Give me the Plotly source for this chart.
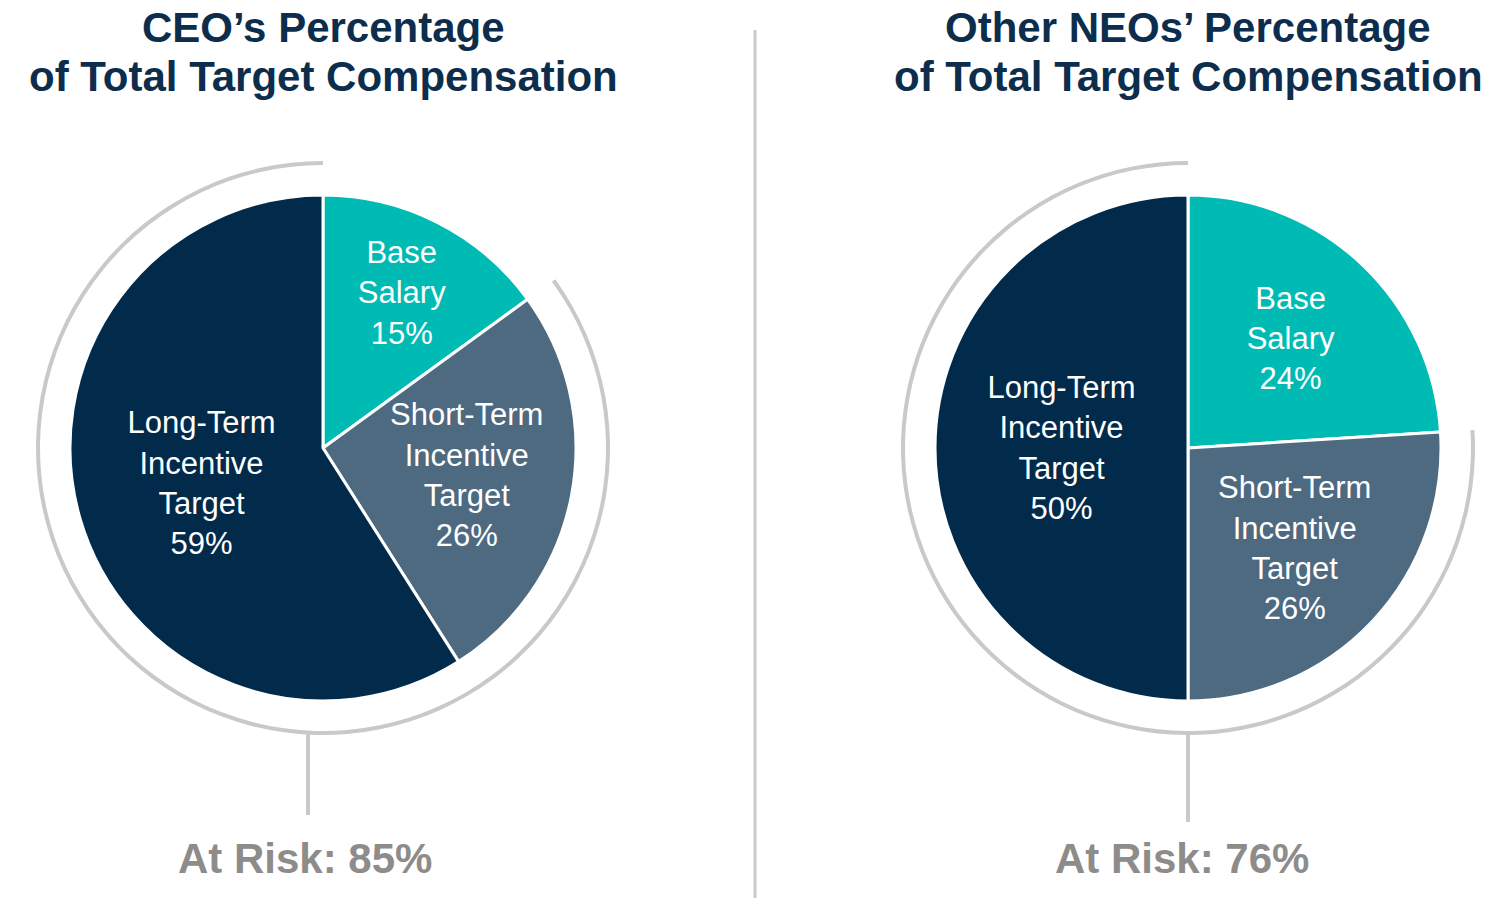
import plotly.graph_objects as go

# Pay mix, % of total target compensation
segments = ["Base<br>Salary", "Short-Term<br>Incentive<br>Target", "Long-Term<br>Incentive<br>Target"]
ceo_mix = [15, 26, 59]
neo_mix = [24, 26, 50]
panel_titles = ["CEO’s Percentage", "Other NEOs’ Percentage"]
panel_subtitle = "of Total Target Compensation"

slice_colors = ["#00bbb4", "#4d6a81", "#022a4a"]
ring_gray = "#c9c9c9"
navy = "#0d2d4d"
risk_gray = "#8e8c8a"

W, H = 1501, 915
OFF = 8  # page body margin


def fx(x):
    return (x - OFF) / W


def fy(y):
    return (H - (y - OFF)) / H


def px_x(x0, x1):
    return [fx(x0), fx(x1)]


def px_y(top, bottom):
    return [fy(bottom), fy(top)]


fig = go.Figure()

panels = [
    dict(mix=ceo_mix, cx=323, cy=448, stem_x=308, stem_bottom=815, risk_x=305),
    dict(mix=neo_mix, cx=1188, cy=448, stem_x=1188, stem_bottom=822, risk_x=1182),
]

R_PIE = 253
R_RING = 287

for i, p in enumerate(panels):
    cx, cy = p["cx"], p["cy"]
    at_risk = sum(p["mix"][1:])

    # outer ring marking the at-risk share
    fig.add_trace(go.Pie(
        values=[p["mix"][0], at_risk],
        sort=False, direction="clockwise", rotation=0,
        hole=(R_RING - 4) / R_RING,
        marker=dict(colors=["rgba(0,0,0,0)", ring_gray], line=dict(width=0)),
        textinfo="none", hoverinfo="skip", showlegend=False,
        domain=dict(x=px_x(cx - R_RING, cx + R_RING), y=px_y(cy - R_RING, cy + R_RING)),
    ))

    fig.add_trace(go.Pie(
        labels=segments, values=p["mix"],
        sort=False, direction="clockwise", rotation=0,
        marker=dict(colors=slice_colors, line=dict(color="white", width=3)),
        texttemplate="%{label}<br>%{value}%",
        textposition="inside", insidetextorientation="horizontal",
        textfont=dict(family="Liberation Sans, Arial", size=31, color="white"),
        hoverinfo="skip", showlegend=False,
        domain=dict(x=px_x(cx - R_PIE, cx + R_PIE), y=px_y(cy - R_PIE, cy + R_PIE)),
    ))

    # titles
    for txt, yy in [(panel_titles[i], 27), (panel_subtitle, 76)]:
        fig.add_annotation(
            x=fx(cx), y=fy(yy), xref="paper", yref="paper",
            text=f"<b>{txt}</b>", showarrow=False, xanchor="center", yanchor="middle",
            font=dict(family="Liberation Sans, Arial", size=42, color=navy),
        )

    fig.add_annotation(
        x=fx(p["risk_x"]), y=fy(858), xref="paper", yref="paper",
        text=f"<b>At Risk: {at_risk}%</b>", showarrow=False,
        xanchor="center", yanchor="middle",
        font=dict(family="Liberation Sans, Arial", size=42, color=risk_gray),
    )

    # stem from ring to the at-risk label
    fig.add_shape(type="line", xref="paper", yref="paper",
                  x0=fx(p["stem_x"]), x1=fx(p["stem_x"]),
                  y0=fy(cy + R_RING - 2), y1=fy(p["stem_bottom"]),
                  line=dict(color=ring_gray, width=4))

# divider
fig.add_shape(type="line", xref="paper", yref="paper",
              x0=fx(755), x1=fx(755), y0=fy(30), y1=fy(898),
              line=dict(color=ring_gray, width=3))

fig.update_layout(
    width=W, height=H,
    margin=dict(l=0, r=0, t=0, b=0),
    paper_bgcolor="white", plot_bgcolor="white",
    uniformtext=dict(minsize=31, mode="show"),
)

fig.write_html("out.html")
